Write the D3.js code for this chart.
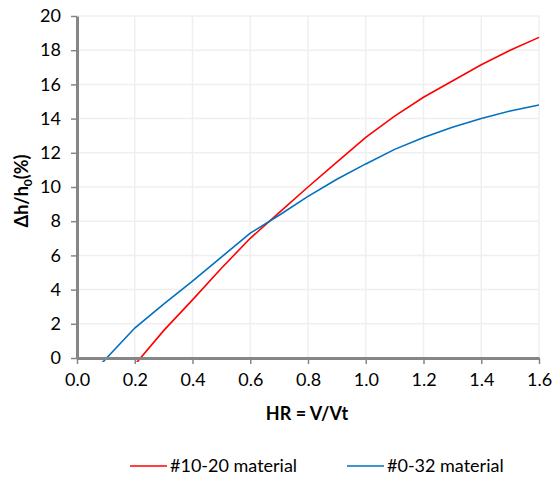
<!DOCTYPE html>
<html>
<head>
<meta charset="utf-8">
<script src="https://cdn.jsdelivr.net/npm/d3@7"></script>
<style>
    body { margin: 0; background: #fff; }
    text { font-family: Lato, "Liberation Sans", Arial, sans-serif; }
</style>
</head>
<body>
<svg id="chart" width="553" height="479"></svg>
<script>
// data
const redX = [0.2, 0.3, 0.4, 0.5, 0.6, 0.7, 0.8, 0.9, 1.0, 1.1, 1.2, 1.3, 1.4, 1.5, 1.6];
const redY = [-0.4, 1.6, 3.4, 5.25, 7.0, 8.5, 10.0, 11.45, 12.9, 14.15, 15.25, 16.2, 17.15, 18.0, 18.75];
const blueX = [0.0, 0.2, 0.3, 0.4, 0.5, 0.6, 0.7, 0.8, 0.9, 1.0, 1.1, 1.2, 1.3, 1.4, 1.5, 1.6];
const blueY = [-1.85, 1.75, 3.15, 4.5, 5.9, 7.3, 8.35, 9.45, 10.45, 11.35, 12.2, 12.9, 13.5, 14.0, 14.45, 14.8];
const xTicks = [0, 0.2, 0.4, 0.6, 0.8, 1.0, 1.2, 1.4, 1.6];
const yTicks = [0, 2, 4, 6, 8, 10, 12, 14, 16, 18, 20];
const seriesNames = ["#10-20 material", "#0-32 material"];
const seriesColors = ["#ff0000", "#0070c0"];

const FONT = "Lato, 'Liberation Sans', Arial, sans-serif";
const svg = d3.select("#chart");
const margin = {left: 77, right: 14, top: 16, bottom: 121};
const width = 553 - margin.left - margin.right,
    height = 479 - margin.top - margin.bottom;

const x = d3.scaleLinear().domain([0, 1.6]).range([0, width]);
const y = d3.scaleLinear().domain([0, 20]).range([height, 0]);

const g = svg.append("g").attr("transform", `translate(${margin.left},${margin.top})`);

g.append("clipPath").attr("id", "plotClip")
    .append("rect").attr("x", 0).attr("y", -2).attr("width", width + 2).attr("height", height + 6);

// grid
g.append("g").selectAll("line").data(xTicks.slice(1)).join("line")
    .attr("x1", d => x(d)).attr("x2", d => x(d))
    .attr("y1", 0).attr("y2", height)
    .attr("stroke", "#efefef").attr("stroke-width", 1.5);
g.append("g").selectAll("line").data(yTicks.slice(1)).join("line")
    .attr("x1", 0).attr("x2", width)
    .attr("y1", d => y(d)).attr("y2", d => y(d))
    .attr("stroke", "#efefef").attr("stroke-width", 1.5);

// lines
const line = d3.line().x(d => x(d[0])).y(d => y(d[1]));
const series = [d3.zip(redX, redY), d3.zip(blueX, blueY)];
g.append("g").attr("clip-path", "url(#plotClip)")
    .selectAll("path").data(series).join("path")
    .attr("d", line)
    .attr("fill", "none")
    .attr("stroke", (d, i) => seriesColors[i])
    .attr("stroke-width", 1.6);

// axes
const gx = g.append("g").attr("transform", `translate(0,${height})`)
    .call(d3.axisBottom(x).tickValues(xTicks).tickFormat(d3.format(".1f")).tickSize(6).tickSizeOuter(0));
const gy = g.append("g")
    .call(d3.axisLeft(y).tickValues(yTicks).tickSize(6).tickSizeOuter(0));
[gx, gy].forEach(a => {
    a.select(".domain").attr("stroke", "#868686").attr("stroke-width", 3);
    a.selectAll(".tick line").attr("stroke", "#868686").attr("stroke-width", 1.5);
    a.selectAll(".tick text").attr("fill", "#000").style("font-size", "18px")
        .style("font-family", FONT);
});
gx.selectAll(".tick text").attr("dy", "1.05em");
gy.selectAll(".tick text").attr("x", -16);

// axis titles
svg.append("text")
    .attr("x", 307).attr("y", 420)
    .attr("text-anchor", "middle")
    .style("font-size", "18px").style("font-weight", "bold")
    .text("HR = V/Vt");

const yt = svg.append("text")
    .attr("transform", `translate(28,${margin.top + height / 2 + 4}) rotate(-90)`)
    .attr("text-anchor", "middle")
    .style("font-size", "18px").style("font-weight", "bold");
yt.append("tspan").text("Δh/h");
yt.append("tspan").attr("dy", 4).style("font-size", "12px").text("0");
yt.append("tspan").attr("dy", -4).text("(%)");

// legend
const legendX = [130, 347];
const lg = svg.append("g").selectAll("g").data(seriesNames).join("g")
    .attr("transform", (d, i) => `translate(${legendX[i]},466)`);
lg.append("line").attr("x1", 0).attr("x2", 37)
    .attr("stroke", (d, i) => seriesColors[i]).attr("stroke-width", 1.6);
lg.append("text").attr("x", 40).attr("dy", "0.35em")
    .style("font-size", "18px").text(d => d);
</script>
</body>
</html>
